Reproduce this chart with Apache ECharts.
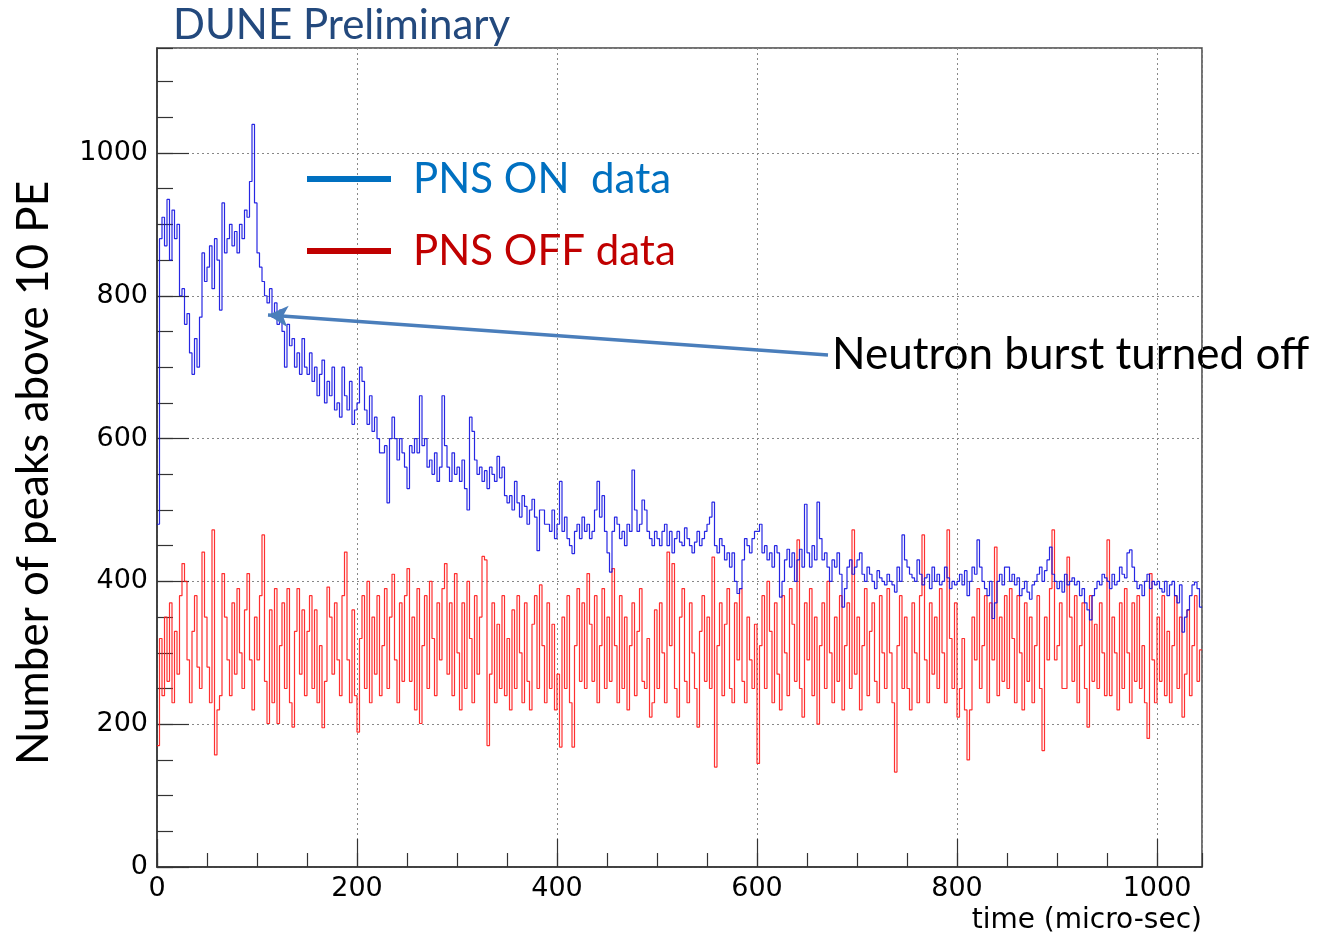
<!DOCTYPE html>
<html>
<head>
<meta charset="utf-8">
<script src="https://cdn.jsdelivr.net/npm/echarts@6/dist/echarts.min.js"></script>
<style>
html,body{margin:0;padding:0;background:#fff;}
#chart{width:1320px;height:939px;}
</style>
</head>
<body>
<div id="chart"></div>
<script>
// ---- data (bin width 2.5 micro-sec, bins start at 0) ----
const BIN_WIDTH = 2.5;
const X_MAX = 1045;
const Y_MAX = 1147;
const seriesNames = ['PNS ON  data', 'PNS OFF data'];
const xTickLabels = [0, 200, 400, 600, 800, 1000];
const yTickLabels = [0, 200, 400, 600, 800, 1000];

// PNS ON (one row = 50 micro-sec)
const pnsOn = [
 480,880,910,870,935,850,920,880,900,800,810,760,775,720,690,740,700,770,860,820,
 840,870,810,880,850,780,930,860,880,900,870,890,860,900,880,920,910,960,1040,930,
 860,840,820,800,790,810,770,790,760,780,750,700,760,730,740,700,720,690,740,700,
 690,720,680,700,660,690,710,650,680,660,700,640,650,630,700,660,640,680,620,640,
 650,700,680,640,620,660,610,630,600,580,580,590,510,600,630,600,570,600,580,560,
 530,590,580,600,580,660,590,600,560,570,550,580,540,560,660,590,560,540,580,550,
 560,540,570,530,500,630,610,570,550,560,540,555,530,560,550,540,575,545,560,520,
 510,520,500,540,510,490,520,505,480,500,515,490,443,500,500,480,480,470,500,460,
 480,540,470,490,460,450,439,470,480,460,490,470,480,460,470,500,540,490,520,470,
 440,413,470,490,480,460,470,450,480,470,556,500,470,480,514,500,470,460,450,470,
 460,450,470,480,450,470,440,460,470,455,450,475,460,450,440,455,470,450,460,470,
 480,490,511,450,440,460,450,430,440,420,440,400,383,390,430,460,450,440,460,470,
 470,480,440,450,430,440,420,450,440,378,400,430,445,420,440,400,430,445,420,508,
 440,420,450,430,511,460,430,440,420,400,430,420,440,410,364,390,420,430,410,420,
 430,440,410,400,420,410,400,390,415,405,400,395,410,400,395,385,420,400,465,430,
 420,410,405,400,430,410,395,405,410,390,420,400,410,395,400,420,405,390,400,395,
 400,410,395,415,380,400,420,410,458,420,400,390,380,400,348,370,400,410,395,420,
 420,400,410,395,405,380,390,400,385,375,395,400,410,420,400,415,430,448,410,400,
 390,400,385,410,395,400,405,395,400,380,390,370,360,346,380,390,400,395,410,405,
 400,390,410,395,400,420,410,405,440,444,420,400,390,395,380,400,410,390,400,395,
 400,390,385,400,380,395,400,380,370,395,329,350,360,380,395,399,390,364
];

// PNS OFF (one row = 50 micro-sec)
const pnsOff = [
 170,320,240,350,260,370,230,330,270,380,425,400,290,230,330,380,280,250,441,350,
 280,230,472,157,220,240,411,350,290,240,370,270,390,300,250,360,411,290,220,350,
 290,380,465,260,201,360,230,390,201,310,370,250,390,230,196,330,390,270,360,240,
 330,380,250,360,230,310,195,260,392,350,270,370,290,240,380,441,290,230,360,240,
 189,320,380,250,400,230,350,270,380,240,310,390,250,350,410,290,230,370,260,380,
 418,260,350,220,390,201,310,380,250,400,320,240,370,290,390,425,270,370,240,411,
 300,220,370,250,400,320,230,380,270,350,435,430,170,270,370,230,340,250,380,240,
 320,220,360,250,380,300,230,370,260,220,340,380,250,395,310,230,370,250,340,220,
 270,168,350,250,380,230,168,310,390,260,370,250,411,340,260,380,230,310,390,250,
 350,260,418,310,230,380,250,350,220,310,370,240,330,390,260,250,320,210,230,360,
 250,370,300,230,441,310,425,250,210,350,390,260,230,370,300,250,196,330,380,260,
 350,250,434,140,310,370,240,340,390,250,230,370,290,390,260,230,350,290,250,340,
 145,310,380,250,400,330,230,370,270,220,380,300,240,390,340,260,458,250,210,370,
 290,390,240,350,200,310,370,250,400,300,230,350,260,380,220,310,370,250,472,270,
 350,220,310,390,240,330,370,260,230,380,300,250,390,300,230,133,310,380,250,350,
 250,220,370,300,230,380,465,290,230,370,270,350,250,390,300,230,472,320,250,370,
 210,250,320,220,150,220,350,290,390,250,310,380,230,370,290,448,240,350,260,380,
 250,390,320,230,380,300,220,370,260,350,230,310,380,250,163,350,290,390,472,290,
 310,370,250,250,434,350,260,380,230,310,370,250,196,380,260,340,250,370,300,240,
 458,240,350,300,220,370,250,390,300,230,370,260,380,250,310,230,180,411,290,230,
 350,260,380,240,330,230,310,380,250,350,210,270,360,240,310,380,260,304
];

// annotation arrow (data coordinates): from the text to the point where the burst is turned off
const arrowFrom = [671, 717];
const arrowTo = [111, 773];

function toSteps(vals) {
  const pts = vals.map((v, i) => [i * BIN_WIDTH, v]);
  pts.push([X_MAX, vals[vals.length - 1]]);
  return pts;
}

const chart = echarts.init(document.getElementById('chart'));
const labelFont = 'DejaVu Sans';
const textFont = 'Lato';

const option = {
  backgroundColor: '#fff',
  animation: false,
  grid: {
    left: 157, right: 118, top: 48, bottom: 72,
    show: true, borderColor: '#444', borderWidth: 1.5, backgroundColor: 'transparent'
  },
  legend: {
    orient: 'vertical',
    left: 307, top: 158,
    padding: 0,
    itemWidth: 84, itemHeight: 6,
    itemGap: 30,
    icon: 'rect',
    selectedMode: false,
    textStyle: { fontSize: 42, fontFamily: textFont, padding: [0, 0, 0, 17] },
    data: [
      { name: seriesNames[0], itemStyle: { color: '#0070c0' }, textStyle: { color: '#0070c0' } },
      { name: seriesNames[1], itemStyle: { color: '#c00000' }, textStyle: { color: '#c00000' } }
    ]
  },
  xAxis: [
    {
      type: 'value', min: 0, max: X_MAX, interval: 200, position: 'bottom',
      axisLine: { show: true, onZero: false, lineStyle: { color: '#333', width: 1.5 } },
      axisTick: { show: true, inside: true, length: 28, lineStyle: { color: '#333', width: 1.2 } },
      axisLabel: {
        show: true, margin: 8, fontSize: 27, fontFamily: labelFont, color: '#000',
        showMaxLabel: false,
        formatter: v => (xTickLabels.indexOf(v) >= 0 ? String(v) : '')
      },
      splitLine: { show: true, lineStyle: { color: '#888', width: 1, type: [2, 3] } }
    },
    {
      type: 'value', min: 0, max: X_MAX, interval: 50, position: 'bottom',
      axisLine: { show: false },
      axisTick: { show: true, inside: true, length: 14, lineStyle: { color: '#333', width: 1.2 } },
      axisLabel: { show: false },
      splitLine: { show: false }
    }
  ],
  yAxis: [
    {
      type: 'value', min: 0, max: Y_MAX, interval: 200, position: 'left',
      axisLine: { show: true, onZero: false, lineStyle: { color: '#333', width: 1.5 } },
      axisTick: { show: true, inside: true, length: 32, lineStyle: { color: '#333', width: 1.2 } },
      axisLabel: {
        show: true, margin: 9, fontSize: 27, fontFamily: labelFont, color: '#000',
        showMaxLabel: false,
        formatter: v => (yTickLabels.indexOf(v) >= 0 ? String(v) : '')
      },
      splitLine: { show: true, lineStyle: { color: '#888', width: 1, type: [2, 3] } }
    },
    {
      type: 'value', min: 0, max: Y_MAX, interval: 50, position: 'left',
      axisLine: { show: false },
      axisTick: { show: true, inside: true, length: 16, lineStyle: { color: '#333', width: 1.2 } },
      axisLabel: { show: false },
      splitLine: { show: false }
    }
  ],
  series: [
    {
      name: seriesNames[1], type: 'line', step: 'end',
      xAxisIndex: 0, yAxisIndex: 0,
      data: toSteps(pnsOff),
      showSymbol: false, symbol: 'none',
      lineStyle: { color: '#ff1a1a', width: 1.2, opacity: 0.9 },
      itemStyle: { color: '#c00000' },
      z: 2
    },
    {
      name: seriesNames[0], type: 'line', step: 'end',
      xAxisIndex: 0, yAxisIndex: 0,
      data: toSteps(pnsOn),
      showSymbol: false, symbol: 'none',
      lineStyle: { color: '#1010e0', width: 1.2, opacity: 0.9 },
      itemStyle: { color: '#0070c0' },
      z: 3,
      markLine: {
        silent: true,
        symbol: ['none', 'arrow'],
        symbolSize: [16, 20],
        label: { show: false },
        lineStyle: { color: '#4a7ebb', width: 3.5, type: 'solid', opacity: 1 },
        data: [[{ coord: arrowFrom }, { coord: arrowTo }]]
      }
    }
  ],
  graphic: [
    {
      type: 'text', x: 173, y: 25,
      style: { text: 'DUNE Preliminary', font: '42px Lato', fill: '#23497d', align: 'left', verticalAlign: 'middle' }
    },
    {
      type: 'text', x: 34, y: 473, rotation: Math.PI / 2,
      style: { text: 'Number of peaks above 10 PE', font: '44px Lato', fill: '#000', align: 'center', verticalAlign: 'middle' }
    },
    {
      type: 'text', x: 1202, y: 921,
      style: { text: 'time (micro-sec)', font: '28px "DejaVu Sans"', fill: '#000', align: 'right', verticalAlign: 'middle' }
    },
    {
      type: 'text', x: 832, y: 355,
      style: { text: 'Neutron burst turned off', font: '44px Lato', fill: '#000', align: 'left', verticalAlign: 'middle' }
    }
  ]
};
chart.setOption(option);
</script>
</body>
</html>
